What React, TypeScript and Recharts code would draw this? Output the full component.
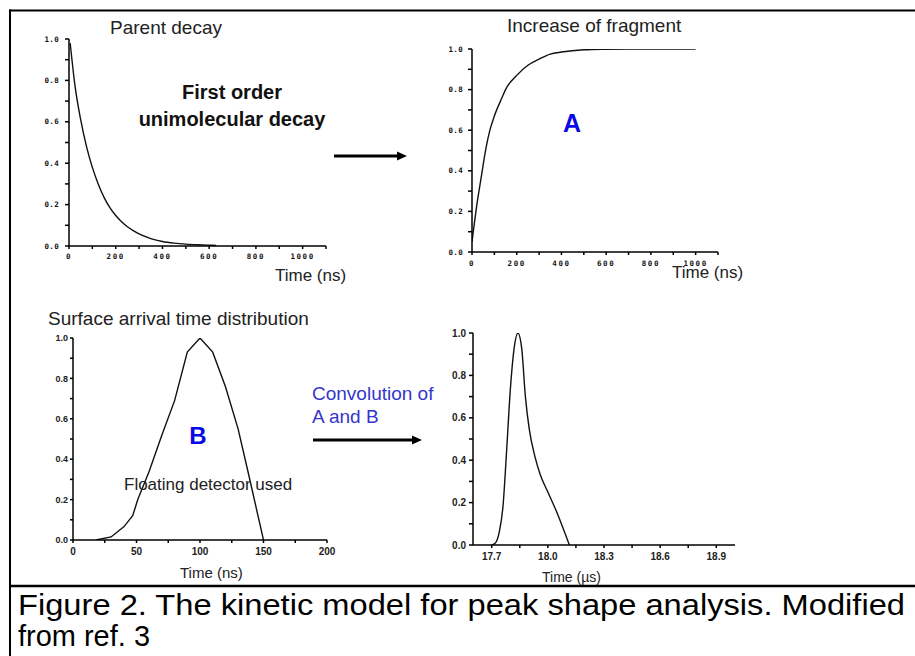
import React from "react";
import { LineChart, Line, XAxis, YAxis } from "recharts";

// ---------- data ----------
const decayTime = [5, 25, 50, 75, 100, 125, 150, 175, 200, 225, 250, 275, 300, 350, 400, 450, 500, 550, 600, 630];
const decayValue = [0.98, 0.78, 0.61, 0.48, 0.38, 0.3, 0.235, 0.185, 0.147, 0.117, 0.093, 0.074, 0.058, 0.036, 0.022, 0.014, 0.009, 0.006, 0.004, 0.003];

const growthTime = [0, 8, 20, 40, 64, 80, 100, 134, 150, 200, 250, 300, 350, 400, 500, 600, 700, 1000];
const growthValue = [0.05, 0.12, 0.22, 0.36, 0.52, 0.6, 0.67, 0.76, 0.8, 0.87, 0.92, 0.95, 0.975, 0.985, 0.996, 0.999, 1.0, 1.0];

const arrivalTime = [18, 30, 40, 47, 51, 60, 70, 80, 90, 100, 110, 120, 130, 137, 150];
const arrivalValue = [0, 0.015, 0.065, 0.12, 0.2, 0.34, 0.52, 0.69, 0.93, 1.0, 0.93, 0.76, 0.55, 0.36, 0];

const peakTime = [17.7, 17.72, 17.74, 17.76, 17.78, 17.8, 17.82, 17.84, 17.86, 17.88, 17.9, 17.93, 17.96, 18.0, 18.05, 18.115];
const peakValue = [0, 0.01, 0.06, 0.18, 0.45, 0.74, 0.93, 1.0, 0.93, 0.7, 0.55, 0.42, 0.33, 0.25, 0.15, 0];

// tick values / labels
const unitTicks = [0, 0.1, 0.2, 0.3, 0.4, 0.5, 0.6, 0.7, 0.8, 0.9, 1.0];
const unitMajor = [0, 0.2, 0.4, 0.6, 0.8, 1.0];
const unitLabels = ["0.0", "0.2", "0.4", "0.6", "0.8", "1.0"];

const nsTicks = [0, 100, 200, 300, 400, 500, 600, 700, 800, 900, 1000, 1100];
const nsMajor = [0, 200, 400, 600, 800, 1000];
const nsLabels = ["0", "200", "400", "600", "800", "1000"];

const arrTicks = [0, 25, 50, 75, 100, 125, 150, 175, 200];
const arrMajor = [0, 50, 100, 150, 200];
const arrLabels = ["0", "50", "100", "150", "200"];

const usTicks = [17.7, 17.85, 18.0, 18.15, 18.3, 18.45, 18.6, 18.75, 18.9];
const usMajor = [17.7, 18.0, 18.3, 18.6, 18.9];
const usLabels = ["17.7", "18.0", "18.3", "18.6", "18.9"];

const zip = (xs: number[], ys: number[]) => xs.map((t, i) => ({ t, v: ys[i] }));

// ---------- tick renderer ----------
type TickOpts = {
  values: number[];
  labels: string[];
  fontSize: number;
  fontFamily: string;
  letterSpacing?: number;
  dy: string;
  anchor: "middle" | "end";
  fill?: string;
};
const makeTick = (o: TickOpts) => (props: any) => {
  const { x, y, payload } = props;
  const i = o.values.findIndex((v) => Math.abs(v - payload.value) < 1e-6);
  if (i < 0) return <g />;
  return (
    <text
      x={x}
      y={y}
      dy={o.dy}
      textAnchor={o.anchor}
      fontSize={o.fontSize}
      fontFamily={o.fontFamily}
      fontWeight="bold"
      letterSpacing={o.letterSpacing ?? 0}
      fill={o.fill ?? "#111"}
    >
      {o.labels[i]}
    </text>
  );
};

const PIX = "'DejaVu Sans Mono', monospace";
const ARIAL = "'Liberation Sans', Arial, sans-serif";
const axisStyle = { stroke: "#000", strokeWidth: 1.5 };

type PanelProps = {
  left: number;
  top: number;
  width: number;
  height: number;
  marginTop: number;
  marginRight: number;
  yw: number;
  xh: number;
  data: { t: number; v: number }[];
  xDomain: [number, number];
  xTicks: number[];
  xTick: (p: any) => React.ReactElement;
  yTick: (p: any) => React.ReactElement;
  xTickSize: number;
  xTickMargin: number;
  yTickSize: number;
  yTickMargin: number;
  curve: "monotone" | "linear";
};

function Panel(p: PanelProps) {
  return (
    <div style={{ position: "absolute", left: p.left, top: p.top }}>
      <LineChart
        width={p.width}
        height={p.height}
        data={p.data}
        margin={{ top: p.marginTop, right: p.marginRight, bottom: 0, left: 0 }}
      >
        <XAxis
          dataKey="t"
          type="number"
          domain={p.xDomain}
          ticks={p.xTicks}
          interval={0}
          height={p.xh}
          axisLine={axisStyle}
          tickLine={axisStyle}
          tickSize={p.xTickSize}
          tickMargin={p.xTickMargin}
          tick={p.xTick}
          allowDataOverflow
        />
        <YAxis
          type="number"
          domain={[0, 1]}
          ticks={unitTicks}
          interval={0}
          width={p.yw}
          axisLine={axisStyle}
          tickLine={axisStyle}
          tickSize={p.yTickSize}
          tickMargin={p.yTickMargin}
          tick={p.yTick}
          allowDataOverflow
        />
        <Line
          dataKey="v"
          type={p.curve}
          dot={false}
          stroke="#111"
          strokeWidth={1.4}
          isAnimationActive={false}
        />
      </LineChart>
    </div>
  );
}

const Arrow = ({ x1, x2, y }: { x1: number; x2: number; y: number }) => (
  <g>
    <line x1={x1} y1={y} x2={x2 - 8} y2={y} stroke="#000" strokeWidth={3} />
    <polygon points={`${x2 - 10},${y - 4.5} ${x2},${y} ${x2 - 10},${y + 4.5}`} fill="#000" />
  </g>
);

export default function App() {
  const pixY = makeTick({ values: unitMajor, labels: unitLabels, fontSize: 7.5, fontFamily: PIX, letterSpacing: 0.3, dy: "0.35em", anchor: "end" });
  const pixX = makeTick({ values: nsMajor, labels: nsLabels, fontSize: 7.5, fontFamily: PIX, letterSpacing: 1.6, dy: "0.71em", anchor: "middle" });
  const c3Y = makeTick({ values: unitMajor, labels: unitLabels, fontSize: 9, fontFamily: ARIAL, dy: "0.35em", anchor: "end", fill: "#222" });
  const c3X = makeTick({ values: arrMajor, labels: arrLabels, fontSize: 10, fontFamily: ARIAL, dy: "0.71em", anchor: "middle", fill: "#222" });
  const c4Y = makeTick({ values: unitMajor, labels: unitLabels, fontSize: 10, fontFamily: ARIAL, dy: "0.35em", anchor: "end", fill: "#222" });
  const c4X = makeTick({ values: usMajor, labels: usLabels, fontSize: 10, fontFamily: ARIAL, dy: "0.71em", anchor: "middle", fill: "#222" });

  return (
    <div style={{ position: "absolute", left: 0, top: 0, width: 915, height: 656, background: "#fff", overflow: "hidden" }}>
      {/* Panel 1: parent decay */}
      <Panel
        left={20} top={30} width={320} height={236} marginTop={9} marginRight={14} yw={49} xh={20}
        data={zip(decayTime, decayValue)} xDomain={[0, 1100]} xTicks={nsTicks}
        xTick={pixX} yTick={pixY} xTickSize={3} xTickMargin={5} yTickSize={4} yTickMargin={6}
        curve="monotone"
      />
      {/* Panel 2: increase of fragment */}
      <Panel
        left={420} top={40} width={312} height={232} marginTop={9} marginRight={14} yw={52} xh={20}
        data={zip(growthTime, growthValue)} xDomain={[0, 1100]} xTicks={nsTicks}
        xTick={pixX} yTick={pixY} xTickSize={3} xTickMargin={6} yTickSize={4} yTickMargin={5}
        curve="monotone"
      />
      {/* Panel 3: arrival time distribution */}
      <Panel
        left={20} top={330} width={322} height={230} marginTop={8} marginRight={15} yw={53} xh={20}
        data={zip(arrivalTime, arrivalValue)} xDomain={[0, 200]} xTicks={arrTicks}
        xTick={c3X} yTick={c3Y} xTickSize={3} xTickMargin={5} yTickSize={3} yTickMargin={2}
        curve="linear"
      />
      {/* Panel 4: convolution */}
      <Panel
        left={420} top={325} width={330} height={240} marginTop={8} marginRight={15} yw={53} xh={20}
        data={zip(peakTime, peakValue)} xDomain={[17.6, 19.0]} xTicks={usTicks}
        xTick={c4X} yTick={c4Y} xTickSize={3} xTickMargin={5} yTickSize={4} yTickMargin={3}
        curve="monotone"
      />

      {/* overlay: frame, arrows, annotations, caption */}
      <svg width={915} height={656} style={{ position: "absolute", left: 0, top: 0, pointerEvents: "none" }}>
        <line x1={9} y1={10.5} x2={915} y2={10.5} stroke="#000" strokeWidth={2} />
        <line x1={10} y1={9.5} x2={10} y2={656} stroke="#000" strokeWidth={2} />
        <line x1={9} y1={586} x2={915} y2={586} stroke="#000" strokeWidth={2.5} />

        <Arrow x1={334} x2={407} y={156} />
        <Arrow x1={313} x2={422} y={440} />

        <g fontFamily={ARIAL} fill="#222">
          <text x={110} y={33.5} fontSize={19}>Parent decay</text>
          <text x={507} y={31.5} fontSize={19}>Increase of fragment</text>
          <text x={48} y={324.5} fontSize={19}>Surface arrival time distribution</text>

          <text x={232} y={99} fontSize={20} fontWeight="bold" textAnchor="middle" fill="#111">First order</text>
          <text x={232} y={126} fontSize={20} fontWeight="bold" textAnchor="middle" fill="#111">unimolecular decay</text>

          <text x={275} y={281} fontSize={17}>Time (ns)</text>
          <text x={672} y={278} fontSize={17}>Time (ns)</text>
          <text x={180} y={577.5} fontSize={15}>Time (ns)</text>
          <text x={542} y={582} fontSize={14}>Time (µs)</text>

          <text x={124} y={490} fontSize={17}>Floating detector used</text>

          <text x={572} y={132} fontSize={25} fontWeight="bold" textAnchor="middle" fill="#0a0ae6">A</text>
          <text x={198} y={443.5} fontSize={24} fontWeight="bold" textAnchor="middle" fill="#0a0ae6">B</text>

          <text x={312} y={400} fontSize={19} fill="#3535cc">Convolution of</text>
          <text x={312} y={423} fontSize={19} fill="#3535cc">A and B</text>
        </g>

        <g fontFamily={ARIAL} fill="#000" fontSize={29}>
          <text x={18} y={615} textLength={887} lengthAdjust="spacingAndGlyphs">
            Figure 2. The kinetic model for peak shape analysis.  Modified
          </text>
          <text x={18} y={646} textLength={132} lengthAdjust="spacingAndGlyphs">from ref. 3</text>
        </g>
      </svg>
    </div>
  );
}
